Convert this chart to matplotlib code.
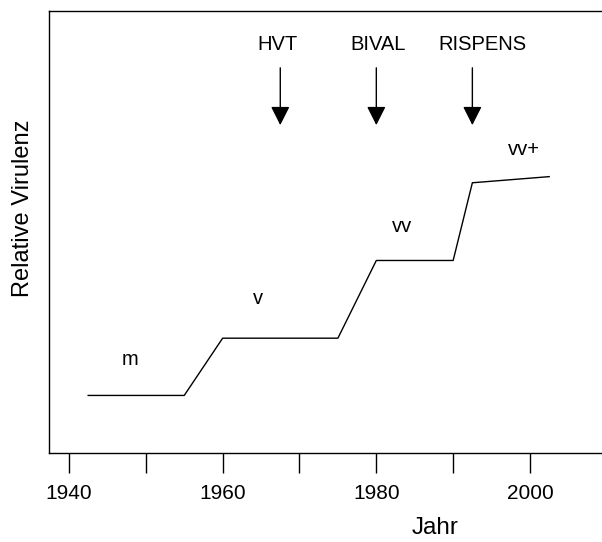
import matplotlib.pyplot as plt
from matplotlib.patches import FancyArrowPatch

plt.rcParams['font.family'] = ['Liberation Sans', 'DejaVu Sans']

# Verlauf der relativen Virulenz
jahr = [1942.5, 1955, 1960, 1975, 1980, 1990, 1992.5, 2002.5]
virulenz = [1.0, 1.0, 2.4, 2.4, 4.3, 4.3, 6.2, 6.35]

# Pathotypen
patho_namen = ['m', 'v', 'vv', 'vv+']
patho_x = [1948.0, 1964.6, 1983.4, 1999.2]
patho_y = [1.87, 3.38, 5.14, 7.02]

# Impfstoffe
impf_namen = ['HVT', 'BIVAL', 'RISPENS']
impf_jahr = [1967.5, 1980, 1992.5]
impf_text_x = [1967.2, 1980.2, 1993.75]

fig = plt.figure(figsize=(6.02, 5.42), dpi=100)
ax = fig.add_axes([49/602, 89.3/542, 577.8/602, 441.7/542])

ax.plot(jahr, virulenz, color='black', lw=1.0)

for name, x, y in zip(patho_namen, patho_x, patho_y):
    ax.text(x, y, name, ha='center', va='center', fontsize=14.5)

for name, xa, xt in zip(impf_namen, impf_jahr, impf_text_x):
    ax.text(xt, 9.57, name, ha='center', va='center', fontsize=14.5)
    arr = FancyArrowPatch((xa, 9.01), (xa, 7.61),
                          arrowstyle='-|>,head_length=11.5,head_width=5.8',
                          mutation_scale=1, shrinkA=0, shrinkB=0,
                          color='black', lw=1.0)
    ax.add_patch(arr)

ax.set_xlim(1937.4, 2012.6)
ax.set_ylim(-0.4, 10.4)
ax.set_yticks([])
ax.set_xticks(range(1940, 2011, 10))
ax.set_xticklabels(['1940', '', '1960', '', '1980', '', '2000', ''])
ax.tick_params(axis='x', length=14.3, width=1.0, labelsize=15, pad=8)
for s in ax.spines.values():
    s.set_linewidth(1.0)

fig.text(23/602, 1 - 208/542, 'Relative Virulenz', rotation=90,
         ha='center', va='center', fontsize=17)
fig.text(435/602, 3/542, 'Jahr', ha='center', va='bottom', fontsize=17.5)

fig.savefig('out.png', dpi=100)
